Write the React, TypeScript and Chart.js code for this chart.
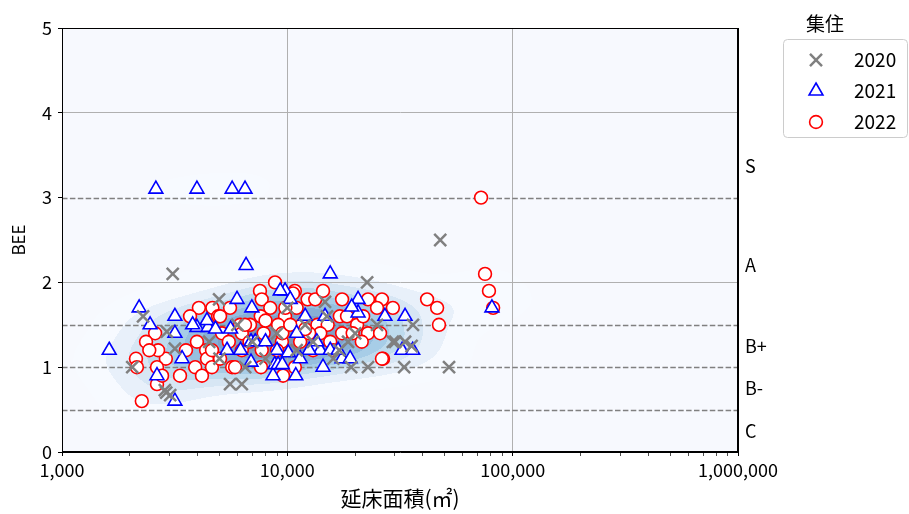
import React, { useEffect, useRef } from 'react';
import { Chart, registerables } from 'chart.js';
import { drawPoint } from 'chart.js/helpers';

Chart.register(...registerables);

const FONT = "'Noto Sans CJK JP', 'Noto Sans', sans-serif";

// ---------- data ----------
const seriesNames = ['2020', '2021', '2022'];

const area2020 = [3100, 47700, 22600, 52200, 36100, 30100, 33300, 35600, 19200, 22800, 33000, 4980, 2290, 5570, 6280, 2900, 3020, 2050, 29400, 14700, 18600, 2920, 3170, 2860, 4500, 6000, 7000, 8000, 9000, 11000, 12000, 13000, 15000, 17000, 20000, 10000, 25000, 6500, 5000, 16000];
const bee2020 = [2.1, 2.5, 2.0, 1.0, 1.5, 1.3, 1.3, 1.25, 1.0, 1.0, 1.0, 1.8, 1.6, 0.8, 0.8, 0.7, 0.67, 1.0, 1.3, 1.77, 1.3, 1.42, 1.22, 0.73, 1.3, 1.5, 1.3, 1.1, 1.4, 1.2, 1.5, 1.3, 1.6, 1.2, 1.4, 1.7, 1.5, 1.0, 1.1, 1.1];

const area2021 = [2610, 3970, 5690, 6490, 6560, 15500, 2200, 1620, 3170, 3170, 2460, 3170, 3970, 4450, 5980, 8640, 9770, 10300, 6960, 3410, 5400, 2640, 20600, 14700, 10900, 14400, 17500, 19000, 9000, 11400, 27100, 33300, 32300, 36000, 80900, 14000, 15500, 16800, 10100, 13500, 20600, 19300, 9300, 4400, 3800, 4800, 5600, 6900, 7200, 6900, 8800, 9100, 9500, 12000, 12500, 11000, 8000, 6200];
const bee2021 = [3.1, 3.1, 3.1, 3.1, 2.2, 2.1, 1.7, 1.2, 0.6, 1.6, 1.5, 1.4, 1.47, 1.47, 1.8, 0.9, 1.9, 1.8, 1.7, 1.1, 1.2, 0.9, 1.8, 1.6, 0.9, 1.0, 1.1, 1.1, 1.2, 1.1, 1.6, 1.6, 1.2, 1.2, 1.7, 1.2, 1.2, 1.2, 1.17, 1.3, 1.64, 1.71, 1.9, 1.55, 1.5, 1.45, 1.45, 1.3, 1.3, 1.06, 1.03, 1.03, 1.03, 1.6, 1.2, 1.4, 1.3, 1.2];

const area2022 = [72400, 75400, 78500, 81900, 41700, 46200, 47100, 26600, 2260,
  8820, 7560, 10800, 7700, 5570, 4650, 4050, 3700, 4930, 6170, 7620, 9770, 2590, 2360, 2130, 2150, 2640, 2890, 2670, 2440, 2640, 2780, 3340, 3550, 3970, 4360, 4400, 3900, 4180, 4630, 5130, 5500, 6280, 7700, 5690, 5860, 7640, 9460, 9000, 6280, 6830, 7850, 10800, 9570, 9100, 10600, 5030, 5030, 4630, 6490,
  12300, 13300, 14400, 17500, 22800, 26300, 29400, 25000, 11600, 13600, 15100, 17100, 18400, 20400, 21700, 17500, 19500, 22800, 25800, 21400, 15500, 14000, 11400, 26300,
  8400, 9500, 10300, 11000, 12500, 13000, 16000, 8000, 9800, 6800, 12000];
const bee2022 = [3.0, 2.1, 1.9, 1.7, 1.8, 1.7, 1.5, 1.1, 0.6,
  2.0, 1.9, 1.9, 1.8, 1.7, 1.7, 1.7, 1.6, 1.6, 1.5, 1.6, 1.6, 1.4, 1.3, 1.1, 1.0, 0.8, 1.1, 1.2, 1.2, 1.0, 0.9, 0.9, 1.2, 1.3, 1.2, 1.1, 1.0, 0.9, 1.0, 1.4, 1.3, 1.2, 1.2, 1.0, 1.0, 1.0, 1.3, 1.2, 1.4, 1.5, 1.4, 1.0, 0.9, 1.5, 1.87, 1.6, 1.1, 1.2, 1.5,
  1.8, 1.8, 1.9, 1.8, 1.8, 1.8, 1.7, 1.7, 1.5, 1.5, 1.5, 1.6, 1.6, 1.5, 1.6, 1.4, 1.4, 1.4, 1.4, 1.3, 1.3, 1.4, 1.3, 1.1,
  1.7, 1.4, 1.5, 1.7, 1.4, 1.2, 1.2, 1.55, 1.7, 1.3, 1.45];

const thresholdLines = [0.5, 1, 1.5, 3];
const gradeLabels = ['C', 'B-', 'B+', 'A', 'S'];
const gradePositions = [0.25, 0.75, 1.25, 2.2, 3.375];
const yGridValues = [2, 4];
const xMajorTicks = [1000, 10000, 100000, 1000000];
const xMajorLabels = ['1,000', '10,000', '100,000', '1,000,000'];
const xGridValues = [10000, 100000];
const legendTitle = '集住';
const xTitle = '延床面積(㎡)';
const yTitle = 'BEE';

// ---------- styles ----------
const PLOT_BG = '#f7f9fe';
const seriesStyles = [
  { pointStyle: 'crossRot', radius: 8.5, borderWidth: 2.5, borderColor: '#808080', backgroundColor: '#808080' },
  { pointStyle: 'triangle', radius: 8, borderWidth: 1.6, borderColor: '#0000ff', backgroundColor: '#ffffff' },
  { pointStyle: 'circle', radius: 6.4, borderWidth: 1.6, borderColor: '#ff0000', backgroundColor: '#ffffff' },
];

function buildXTicks(): number[] {
  const out: number[] = [];
  for (let d = 1000; d < 1000000; d *= 10) {
    for (let m = 1; m < 10; m++) out.push(m * d);
  }
  out.push(1000000);
  return out;
}

// Blues colormap anchors
const BLUES = [
  [247, 251, 255], [222, 235, 247], [198, 219, 239], [158, 202, 225], [107, 174, 214],
  [66, 146, 198], [33, 113, 181], [8, 81, 156], [8, 48, 107],
];
function blues(t: number): number[] {
  const x = Math.max(0, Math.min(1, t)) * (BLUES.length - 1);
  const i = Math.min(BLUES.length - 2, Math.floor(x));
  const f = x - i;
  return BLUES[i].map((c, k) => c + (BLUES[i + 1][k] - c) * f);
}

const kdePlugin = {
  id: 'kdeBackground',
  beforeDraw(chart: any) {
    const { ctx, chartArea: ca, scales } = chart;
    ctx.save();
    ctx.fillStyle = PLOT_BG;
    ctx.fillRect(ca.left, ca.top, ca.right - ca.left, ca.bottom - ca.top);
    const key = `${ca.left},${ca.top},${ca.right},${ca.bottom}`;
    if (!chart.$kde || chart.$kde.key !== key) {
      const xs = scales.x, ys = scales.y;
      const pts: number[][] = [];
      chart.data.datasets.forEach((ds: any) => {
        ds.data.forEach((p: any) => pts.push([xs.getPixelForValue(p.x), ys.getPixelForValue(p.y)]));
      });
      const n = pts.length;
      let mx = 0, my = 0;
      pts.forEach(p => { mx += p[0]; my += p[1]; });
      mx /= n; my /= n;
      let sxx = 0, syy = 0, sxy = 0;
      pts.forEach(p => { const dx = p[0] - mx, dy = p[1] - my; sxx += dx * dx; syy += dy * dy; sxy += dx * dy; });
      sxx /= (n - 1); syy /= (n - 1); sxy /= (n - 1);
      const f2 = Math.pow(n, -2 / 6);
      sxx *= f2; syy *= f2; sxy *= f2;
      const det = sxx * syy - sxy * sxy;
      const a = syy / det, b = -sxy / det, c = sxx / det;
      const W = Math.round(ca.right - ca.left), H = Math.round(ca.bottom - ca.top);
      const dens = new Float32Array(W * H);
      const ySpan = Math.sqrt(syy) * 6;
      for (let j = 0; j < H; j++) {
        const py = ca.top + j + 0.5;
        const near = pts.filter(p => Math.abs(p[1] - py) < ySpan);
        for (let i = 0; i < W; i++) {
          const px = ca.left + i + 0.5;
          let s = 0;
          for (let k = 0; k < near.length; k++) {
            const dx = px - near[k][0], dy = py - near[k][1];
            const q = a * dx * dx + 2 * b * dx * dy + c * dy * dy;
            if (q < 50) s += Math.exp(-0.5 * q);
          }
          dens[j * W + i] = s;
        }
      }
      const sorted = Float32Array.from(dens).sort().reverse();
      let total = 0;
      for (let i = 0; i < sorted.length; i++) total += sorted[i];
      const cum = new Float64Array(sorted.length);
      let acc = 0;
      for (let i = 0; i < sorted.length; i++) { acc += sorted[i]; cum[i] = acc / total; }
      const nLev = 10, thresh = 0.05;
      const levels: number[] = [];
      for (let l = 0; l < nLev; l++) {
        const q = thresh + (1 - thresh) * l / (nLev - 1);
        const target = 1 - q;
        let lo = 0, hi = cum.length - 1;
        while (lo < hi) { const mid = (lo + hi) >> 1; if (cum[mid] < target) lo = mid + 1; else hi = mid; }
        levels.push(sorted[lo]);
      }
      levels.sort((p, q) => p - q);
      const mids: number[] = [];
      for (let l = 0; l < nLev - 1; l++) mids.push((levels[l] + levels[l + 1]) / 2);
      const vmin = mids[0], vmax = mids[mids.length - 1];
      const ALPHA = 0.5;
      const bandColors = mids.map(m => blues((m - vmin) / (vmax - vmin)));
      const off = document.createElement('canvas');
      off.width = W; off.height = H;
      const octx = off.getContext('2d')!;
      const img = octx.createImageData(W, H);
      for (let idx = 0; idx < dens.length; idx++) {
        const d = dens[idx];
        if (d < levels[0]) continue;
        let band = 0;
        while (band < nLev - 2 && d >= levels[band + 1]) band++;
        const col = bandColors[band];
        img.data[idx * 4] = col[0];
        img.data[idx * 4 + 1] = col[1];
        img.data[idx * 4 + 2] = col[2];
        img.data[idx * 4 + 3] = Math.round(ALPHA * 255);
      }
      octx.putImageData(img, 0, 0);
      chart.$kde = { key, canvas: off };
    }
    ctx.drawImage(chart.$kde.canvas, ca.left, ca.top);
    ctx.restore();
  },
};

const overlayPlugin = {
  id: 'overlay',
  beforeDatasetsDraw(chart: any) {
    const { ctx, chartArea: ca, scales } = chart;
    ctx.save();
    ctx.strokeStyle = '#808080';
    ctx.lineWidth = 1.5;
    ctx.setLineDash([5.5, 2.4]);
    thresholdLines.forEach(v => {
      const y = Math.round(scales.y.getPixelForValue(v)) + 0.5;
      ctx.beginPath();
      ctx.moveTo(ca.left, y);
      ctx.lineTo(ca.right, y);
      ctx.stroke();
    });
    ctx.restore();
  },
  afterDraw(chart: any) {
    const { ctx, chartArea: ca } = chart;
    ctx.save();
    // frame
    ctx.strokeStyle = '#000';
    ctx.lineWidth = 1;
    ctx.strokeRect(Math.round(ca.left) + 0.5, Math.round(ca.top) + 0.5, Math.round(ca.right - ca.left) - 1, Math.round(ca.bottom - ca.top) - 1);

    // legend
    const bx = 783.5, by = 39.5, bw = 124, bh = 98;
    ctx.fillStyle = 'rgba(255,255,255,0.85)';
    ctx.strokeStyle = '#cccccc';
    ctx.lineWidth = 1;
    ctx.beginPath();
    (ctx as any).roundRect(bx, by, bw, bh, 4);
    ctx.fill();
    ctx.stroke();

    ctx.fillStyle = '#000';
    ctx.font = `19px ${FONT}`;
    ctx.textAlign = 'center';
    ctx.textBaseline = 'middle';
    ctx.fillText(legendTitle, 825, 24);

    const rowY = [60, 91, 122];
    seriesNames.forEach((name, i) => {
      const st = seriesStyles[i];
      ctx.save();
      ctx.strokeStyle = st.borderColor;
      ctx.fillStyle = st.backgroundColor;
      ctx.lineWidth = st.borderWidth;
      drawPoint(ctx, { pointStyle: st.pointStyle as any, radius: st.radius, borderWidth: st.borderWidth, rotation: 0 }, 816, rowY[i]);
      ctx.restore();
      ctx.fillStyle = '#000';
      ctx.font = `19px ${FONT}`;
      ctx.textAlign = 'left';
      ctx.textBaseline = 'middle';
      ctx.fillText(name, 854, rowY[i]);
    });
    ctx.restore();
  },
};

export default function App() {
  const canvasRef = useRef<HTMLCanvasElement | null>(null);

  useEffect(() => {
    document.body.style.margin = '0';
    document.body.style.overflow = 'hidden';
    const canvas = canvasRef.current;
    if (!canvas) return;
    Chart.defaults.font.family = FONT;
    Chart.defaults.color = '#000';

    const seriesArea = [area2020, area2021, area2022];
    const seriesBee = [bee2020, bee2021, bee2022];
    const xTickValues = buildXTicks();

    const chart = new Chart(canvas, {
      type: 'scatter',
      data: {
        datasets: seriesNames.map((name, i) => ({
          label: name,
          data: seriesArea[i].map((x, k) => ({ x, y: seriesBee[i][k] })),
          pointStyle: seriesStyles[i].pointStyle as any,
          pointRadius: seriesStyles[i].radius,
          pointBorderWidth: seriesStyles[i].borderWidth,
          borderColor: seriesStyles[i].borderColor,
          backgroundColor: seriesStyles[i].backgroundColor,
          pointBorderColor: seriesStyles[i].borderColor,
          pointBackgroundColor: seriesStyles[i].backgroundColor,
          pointHoverRadius: seriesStyles[i].radius,
        })),
      },
      options: {
        responsive: true,
        maintainAspectRatio: false,
        animation: false,
        events: [],
        layout: { padding: { top: 28, left: 0, right: 0, bottom: 0 } },
        plugins: {
          legend: { display: false },
          tooltip: { enabled: false },
        },
        scales: {
          x: {
            type: 'logarithmic',
            position: 'bottom',
            min: 1000,
            max: 1000000,
            afterBuildTicks: (s: any) => {
              s.ticks = xTickValues.map(v => ({ value: v, major: xMajorTicks.includes(v) }));
            },
            afterFit: (s: any) => { s.height = 62; },
            ticks: {
              autoSkip: false,
              maxRotation: 0,
              minRotation: 0,
              padding: 3,
              color: '#000',
              font: { size: 18, family: FONT },
              callback: (v: any) => {
                const idx = xMajorTicks.indexOf(Number(v));
                return idx >= 0 ? xMajorLabels[idx] : '';
              },
            },
            grid: {
              color: (c: any) => (c.tick && xGridValues.includes(c.tick.value) ? '#b0b0b0' : 'rgba(0,0,0,0)'),
              lineWidth: 1,
              tickColor: '#000',
              tickLength: 4,
              tickWidth: (c: any) => (c.tick && xMajorTicks.includes(c.tick.value) ? 1 : 0.7),
            },
            border: { color: '#000', width: 1 },
            title: {
              display: true,
              text: xTitle,
              color: '#000',
              font: { size: 21, family: FONT },
              padding: { top: 0, bottom: 3 },
            },
          },
          y: {
            type: 'linear',
            position: 'left',
            min: 0,
            max: 5,
            afterFit: (s: any) => { s.width = 62; },
            ticks: { stepSize: 1, padding: 6, color: '#000', font: { size: 18, family: FONT } },
            grid: {
              color: (c: any) => (c.tick && yGridValues.includes(c.tick.value) ? '#b0b0b0' : 'rgba(0,0,0,0)'),
              lineWidth: 1,
              tickColor: '#000',
              tickLength: 4,
            },
            border: { color: '#000', width: 1 },
            title: {
              display: true,
              text: yTitle,
              color: '#000',
              font: { size: 17, family: FONT },
              padding: { top: 8, bottom: 0 },
            },
          },
          yR: {
            type: 'linear',
            position: 'right',
            min: 0,
            max: 5,
            afterBuildTicks: (s: any) => {
              s.ticks = gradePositions.map(v => ({ value: v }));
            },
            afterFit: (s: any) => { s.width = 171; },
            ticks: {
              autoSkip: false,
              padding: 7,
              color: '#000',
              font: { size: 18, family: FONT },
              callback: (v: any) => {
                const idx = gradePositions.indexOf(Number(v));
                return idx >= 0 ? gradeLabels[idx] : '';
              },
            },
            grid: { display: false, drawTicks: false },
            border: { display: true, color: '#000', width: 1 },
          },
        },
      },
      plugins: [kdePlugin, overlayPlugin],
    });
    return () => chart.destroy();
  }, []);

  return (
    <div style={{ width: 909, height: 514, position: 'relative' }}>
      <canvas ref={canvasRef} />
    </div>
  );
}
